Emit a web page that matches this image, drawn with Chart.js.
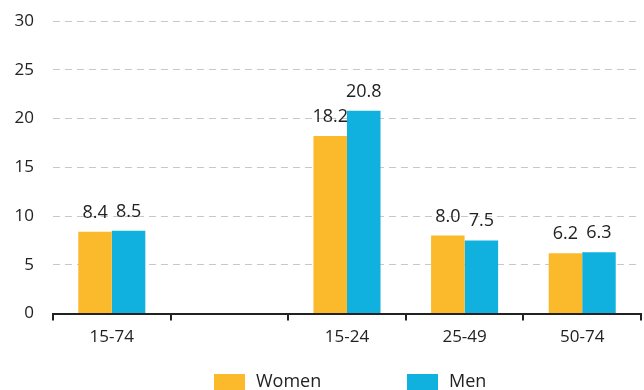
<!DOCTYPE html>
<html>
<head>
<meta charset="utf-8">
<script src="https://cdn.jsdelivr.net/npm/chart.js@4"></script>
<style>
html, body { margin: 0; padding: 0; overflow: hidden; background: #fff; }
#wrap { width: 644px; height: 390px; position: relative; }
</style>
</head>
<body>
<div id="wrap"><canvas id="myBarChart"></canvas></div>
<script>
const ageGroups = ["15-74", "", "15-24", "25-49", "50-74"]
const women = [8.4, null, 18.2, 8.0, 6.2]
const men = [8.5, null, 20.8, 7.5, 6.3]
const yMin = 0
const yMax = 30
const yStep = 5
const seriesNames = ["Women", "Men"]
const seriesColors = ["#FBBA2B", "#10B1DE"]

const fontFamily = "'Open Sans', 'Noto Sans', sans-serif"
const textColor = "#222"
const ctx = document.querySelector("#myBarChart").getContext("2d")

// numbers above each bar
const valueLabels = {
    id: "valueLabels",
    afterDatasetsDraw(chart) {
        const c = chart.ctx
        c.save()
        c.font = "18px " + fontFamily
        c.fillStyle = textColor
        c.textAlign = "center"
        c.textBaseline = "alphabetic"
        chart.data.datasets.forEach((ds, i) => {
            chart.getDatasetMeta(i).data.forEach((bar, j) => {
                const v = ds.data[j]
                if (v === null) return
                c.fillText(v.toFixed(1), bar.x, bar.y - 14)
            })
        })
        c.restore()
    }
}

// legend drawn under the plot, centred on the chart area
const bottomLegend = {
    id: "bottomLegend",
    afterDraw(chart) {
        const c = chart.ctx
        const area = chart.chartArea
        const mid = (area.left + area.right) / 2
        const starts = [mid - 133, mid + 60]
        c.save()
        c.font = "18px " + fontFamily
        c.textBaseline = "alphabetic"
        c.textAlign = "left"
        chart.data.datasets.forEach((ds, i) => {
            const x = starts[i]
            c.fillStyle = ds.backgroundColor
            c.fillRect(x, 374, 31, 16)
            c.fillStyle = textColor
            c.fillText(ds.label, x + 42, 387)
        })
        c.restore()
    }
}

const myChart = new Chart(ctx, {
    type: "bar",
    data: {
        labels: ageGroups,
        datasets: [
            { label: seriesNames[0], data: women, backgroundColor: seriesColors[0] },
            { label: seriesNames[1], data: men, backgroundColor: seriesColors[1] }
        ]
    },
    options: {
        responsive: true,
        maintainAspectRatio: false,
        animation: false,
        datasets: {
            bar: { categoryPercentage: 0.57, barPercentage: 1.0 }
        },
        layout: { padding: { top: 21, right: 3, bottom: 37, left: 0 } },
        plugins: {
            legend: { display: false },
            tooltip: { enabled: false }
        },
        scales: {
            x: {
                grid: {
                    drawOnChartArea: false,
                    drawTicks: true,
                    tickLength: 7,
                    color: textColor,
                    lineWidth: 2
                },
                border: { display: true, color: textColor, width: 2 },
                ticks: {
                    color: textColor,
                    font: { family: fontFamily, size: 17 },
                    padding: 6
                }
            },
            y: {
                min: yMin,
                max: yMax,
                afterFit: scale => { scale.width = 53 },
                grid: {
                    drawTicks: true,
                    tickLength: 19,
                    tickColor: "rgba(0,0,0,0)",
                    color: "#c8c8c8",
                    lineWidth: 1
                },
                border: { display: false, dash: [7, 5] },
                ticks: {
                    stepSize: yStep,
                    color: textColor,
                    padding: 0,
                    font: { family: fontFamily, size: 17 }
                }
            }
        }
    },
    plugins: [valueLabels, bottomLegend]
})
</script>
</body>
</html>
